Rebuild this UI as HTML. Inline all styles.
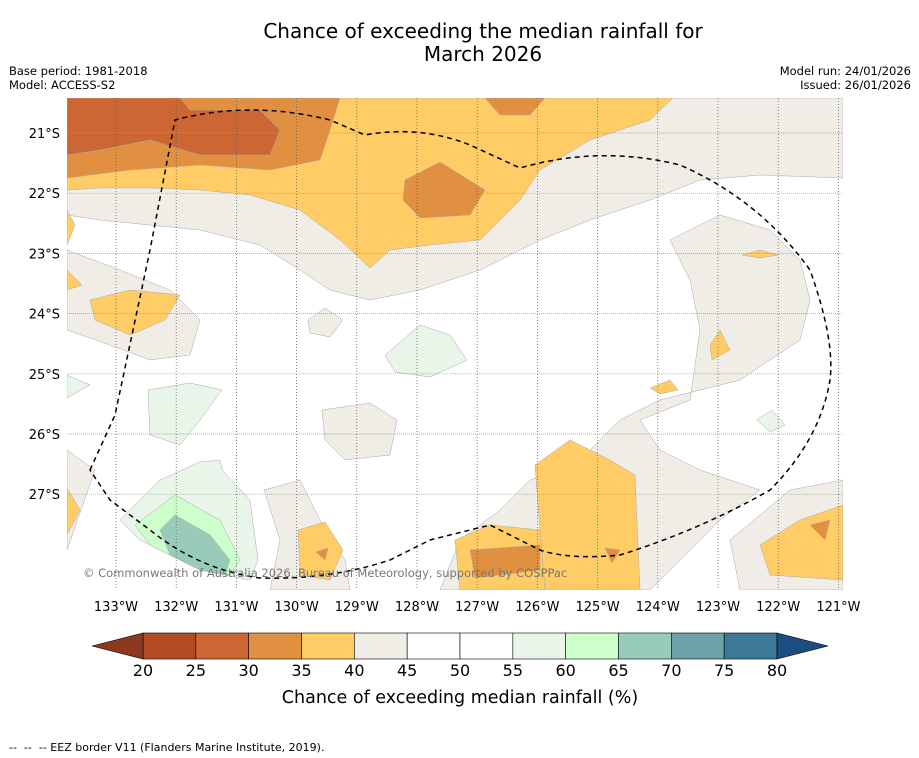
<!DOCTYPE html>
<html><head><meta charset="utf-8"><style>
body{margin:0;background:#fff;font-family:"Liberation Sans",sans-serif}
svg{display:block}
text{font-family:"DejaVu Sans","Liberation Sans",sans-serif}
.pre{white-space:pre}
</style></head><body>
<svg id="chart" width="919" height="758" viewBox="0 0 919 758" xmlns="http://www.w3.org/2000/svg">
<text x="483" y="38" font-size="20" text-anchor="middle">Chance of exceeding the median rainfall for</text>
<text x="483" y="61" font-size="20" text-anchor="middle">March 2026</text>
<text x="9" y="75" font-size="11.5">Base period: 1981-2018</text>
<text x="9" y="89" font-size="11.5">Model: ACCESS-S2</text>
<text x="911" y="75" font-size="11.5" text-anchor="end">Model run: 24/01/2026</text>
<text x="911" y="89" font-size="11.5" text-anchor="end">Issued: 26/01/2026</text>
<defs><clipPath id="mc"><rect x="67" y="98" width="776" height="492"/></clipPath></defs>
<g clip-path="url(#mc)">
<rect x="67" y="98" width="776" height="492" fill="#fff"/>
<g stroke="#aaa" stroke-width="0.5">
<polygon fill="#f0ece6" points="67,98 843,98 843,178 760,175 700,180 650,200 590,220 540,240 480,270 420,290 370,300 330,290 300,270 260,245 200,230 150,225 100,220 67,215"/>
<polygon fill="#f0ece6" points="670,240 720,215 770,230 800,260 810,300 800,340 770,360 740,380 700,390 660,400 620,420 590,450 560,470 530,480 500,510 460,540 440,590 650,590 680,560 720,520 760,490 700,470 660,450 640,420 690,400 700,330 690,280"/>
<polygon fill="#f0ece6" points="730,540 790,490 843,480 843,590 740,590"/>
<polygon fill="#f0ece6" points="264,490 300,480 320,520 345,560 350,590 270,590 280,540"/>
<polygon fill="#f0ece6" points="322,410 370,403 397,420 390,455 345,460 325,440"/>
<polygon fill="#f0ece6" points="308,320 325,308 343,320 330,337 310,333"/>
<polygon fill="#f0ece6" points="67,250 120,270 170,290 200,320 190,355 150,360 110,345 67,330"/>
<polygon fill="#f0ece6" points="67,450 95,470 67,550"/>
<polygon fill="#ffcc66" points="67,98 673,98 650,120 590,140 540,170 520,200 480,240 430,245 390,250 370,268 340,240 300,210 250,195 200,190 150,188 100,188 67,190"/>
<polygon fill="#e09040" points="67,98 340,98 330,130 320,160 270,170 200,165 130,170 67,178"/>
<polygon fill="#e09040" points="405,180 440,162 485,190 470,215 420,218 403,200"/>
<polygon fill="#e09040" points="485,98 545,98 530,115 500,115"/>
<polygon fill="#cc6633" points="67,98 180,98 190,110 260,110 280,130 270,155 200,155 150,140 100,150 67,155"/>
<polygon fill="#ffcc66" points="90,300 130,290 180,295 165,320 130,335 95,320"/>
<polygon fill="#ffcc66" points="67,210 75,225 67,245"/>
<polygon fill="#ffcc66" points="67,270 82,285 67,290"/>
<polygon fill="#ffcc66" points="67,488 80,510 67,535"/>
<polygon fill="#ffcc66" points="535,465 570,440 610,460 635,475 640,590 545,590 540,530"/>
<polygon fill="#ffcc66" points="455,540 490,525 540,530 545,590 460,590"/>
<polygon fill="#e09040" points="470,550 540,545 540,570 475,578"/>
<polygon fill="#e09040" points="605,548 620,550 612,563"/>
<polygon fill="#ffcc66" points="760,545 800,520 843,505 843,580 770,575"/>
<polygon fill="#e09040" points="810,525 830,520 825,540"/>
<polygon fill="#ffcc66" points="298,530 325,522 343,550 330,580 300,575"/>
<polygon fill="#e09040" points="316,552 328,548 325,560"/>
<polygon fill="#ffcc66" points="710,345 720,330 730,350 712,360"/>
<polygon fill="#ffcc66" points="650,388 670,380 678,390 660,394"/>
<polygon fill="#ffcc66" points="742,255 760,250 778,255 760,258"/>
<polygon fill="#eaf5ea" points="385,355 420,325 450,335 467,360 430,377 395,372"/>
<polygon fill="#eaf5ea" points="148,390 190,383 222,390 200,420 180,445 150,435"/>
<polygon fill="#eaf5ea" points="67,375 90,385 67,398"/>
<polygon fill="#eaf5ea" points="757,420 772,410 785,425 770,432"/>
<polygon fill="#eaf5ea" points="120,520 160,480 200,462 220,460 222,470 250,500 258,560 250,580 200,570 140,540"/>
<polygon fill="#ccffcc" points="135,525 175,495 220,520 240,560 230,575 200,570 150,545"/>
<polygon fill="#99ccb8" points="160,530 175,515 210,535 230,560 225,575 200,570 170,555"/>
</g>
<g id="grid"></g>
<path d="M90,470 L115,415 L150,250 L175,120 Q250,100 330,120 L365,135 Q420,125 470,145 L520,168 Q600,145 680,165 Q760,200 810,270 Q835,340 830,380 Q820,440 770,490 Q700,530 620,555 Q570,560 540,550 L490,525 L430,540 L390,560 Q330,580 260,578 Q200,570 150,530 L110,500 Z" fill="none" stroke="#000" stroke-width="1.5" stroke-dasharray="5,4"/>
<text x="83" y="577" font-size="11.5" fill="#777">© Commonwealth of Australia 2026, Bureau of Meteorology, supported by COSPPac</text>
</g>
<g id="axes"></g>
<g id="cbar"></g>
<text x="460" y="703" font-size="17.5" text-anchor="middle">Chance of exceeding median rainfall (%)</text>
<text class="pre" x="9" y="751" font-size="11">--  --  -- EEZ border V11 (Flanders Marine Institute, 2019).</text>
</svg>
<script>
const lonTicks=[133,132,131,130,129,128,127,126,125,124,123,122,121];
const latTicks=[21,22,23,24,25,26,27];
const cbarBounds=[20,25,30,35,40,45,50,55,60,65,70,75,80];
const cbarColors=["#b34a24","#cc6633","#e09040","#ffcc66","#f0ece6","#ffffff","#ffffff","#eaf5ea","#ccffcc","#99ccb8","#6ba3a8","#3d7a99"];
const NS="http://www.w3.org/2000/svg";
const xLon=l=>116+(133-l)*60.2;
const yLat=l=>133+(l-21)*60.2;
const xC=v=>143+(v-20)*(634/60);
function mk(t,a,p){const e=document.createElementNS(NS,t);for(const k in a)e.setAttribute(k,a[k]);p.appendChild(e);return e;}
const grid=document.getElementById('grid'),axes=document.getElementById('axes'),cb=document.getElementById('cbar');
lonTicks.forEach(l=>{
 const ln=mk('line',{x1:xLon(l),x2:xLon(l),y1:98,y2:590,stroke:'#555','stroke-width':0.7,'stroke-dasharray':'1,2'},grid);
 
 
 const t=mk('text',{x:xLon(l),y:611,'font-size':13,'text-anchor':'middle'},axes);t.textContent=l+'°W';
 
 
});
latTicks.forEach(l=>{
 const ln=mk('line',{x1:67,x2:843,y1:yLat(l),y2:yLat(l),stroke:'#999','stroke-width':0.7,'stroke-dasharray':'1,1'},grid);
 
 
 const t=mk('text',{x:60,y:yLat(l)+5,'font-size':13,'text-anchor':'end'},axes);t.textContent=l+'°S';
 
 
});
cbarColors.forEach((c,i)=>{
 const r=mk('rect',{x:xC(cbarBounds[i]),y:633,width:xC(cbarBounds[i+1])-xC(cbarBounds[i]),height:26,fill:c,stroke:'#000','stroke-width':0.6},cb);
 
 
});
const la=mk('polygon',{points:`92,646 ${xC(20)},633 ${xC(20)},659`,fill:'#8b3a1f',stroke:'#000','stroke-width':0.6},cb);


const ra=mk('polygon',{points:`828,646 ${xC(80)},633 ${xC(80)},659`,fill:'#1a4d80',stroke:'#000','stroke-width':0.6},cb);


cbarBounds.forEach(v=>{
 const t=mk('text',{x:xC(v),y:676,'font-size':16,'text-anchor':'middle'},cb);t.textContent=v;
 
 
});
</script>
</body></html>
